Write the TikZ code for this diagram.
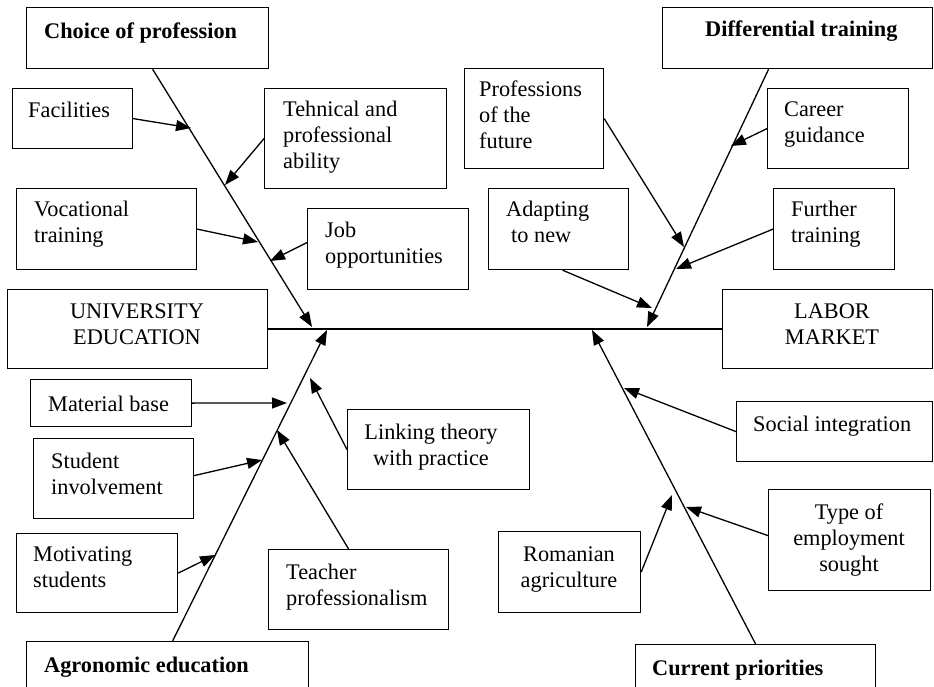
\documentclass[tikz,border=0pt]{standalone}
\usepackage{fontspec}
\setmainfont{Liberation Serif}
\usetikzlibrary{arrows.meta,calc}
\begin{document}
\begin{tikzpicture}[x=1pt,y=-1pt,
  box/.style={draw, line width=1.2pt, rectangle, inner sep=0pt, anchor=north west},
  lbl/.style={inner sep=0pt, font=\fontsize{22.3}{26}\selectfont},
  lblL/.style={lbl, align=left, anchor=base west},
  lblC/.style={lbl, align=center, anchor=base},
  bone/.style={line width=1.3pt, -{Triangle[length=15pt,width=11pt]}},
  arr/.style={line width=1.3pt, -{Triangle[length=15pt,width=11pt]}}
]
\clip (0,0) rectangle (934,687);
% boxes
\node[box, minimum width=242pt, minimum height=61pt] (choice) at (26,7) {};
\node[box, minimum width=120pt, minimum height=60pt] (fac) at (12,88) {};
\node[box, minimum width=182pt, minimum height=100pt] (teh) at (264,88) {};
\node[box, minimum width=180pt, minimum height=81pt] (voc) at (16,188) {};
\node[box, minimum width=161pt, minimum height=81pt] (job) at (307,208) {};
\node[box, minimum width=260pt, minimum height=79pt] (uni) at (7,289) {};
\node[box, minimum width=139pt, minimum height=100pt] (prof) at (464,68) {};
\node[box, minimum width=270pt, minimum height=61pt] (diff) at (662,7) {};
\node[box, minimum width=141pt, minimum height=80pt] (car) at (767,88) {};
\node[box, minimum width=140pt, minimum height=81pt] (ada) at (488,188) {};
\node[box, minimum width=121pt, minimum height=81pt] (fur) at (773,188) {};
\node[box, minimum width=210pt, minimum height=79pt] (lab) at (722,289) {};
\node[box, minimum width=161pt, minimum height=47pt] (mat) at (30,379) {};
\node[box, minimum width=160pt, minimum height=80pt] (stu) at (33,438) {};
\node[box, minimum width=161pt, minimum height=79pt] (mot) at (16,533) {};
\node[box, minimum width=282pt, minimum height=59pt] (agr) at (26,641) {};
\node[box, minimum width=180pt, minimum height=80pt] (tea) at (268,549) {};
\node[box, minimum width=182pt, minimum height=80pt] (lin) at (347,409) {};
\node[box, minimum width=196pt, minimum height=60pt] (soc) at (736,401) {};
\node[box, minimum width=162pt, minimum height=101pt] (typ) at (768,489) {};
\node[box, minimum width=142pt, minimum height=81pt] (rom) at (498,531) {};
\node[box, minimum width=240pt, minimum height=56pt] (cur) at (635,644) {};
% texts (multi-line nodes are placed by the baseline of their last line)
\node[lblL, font=\fontsize{22.3}{26}\selectfont\bfseries] (choiceT) at (44,39) {Choice of profession};
\node[lblL] (facT) at (28,118) {Facilities};
\node[lblL] (tehT) at (283,169) {Tehnical and\\professional\\ability};
\node[lblL] (vocT) at (34,243) {Vocational\\training};
\node[lblL] (jobT) at (325,263) {Job\\opportunities};
\node[lblC] (uniT) at (137,344) {UNIVERSITY\\EDUCATION};
\node[lblL] (profT) at (479,149) {Professions\\of the\\future};
\node[lblL, font=\fontsize{22.3}{26}\selectfont\bfseries] (diffT) at (705,37) {Differential training};
\node[lblL] (carT) at (784,143) {Career\\guidance};
\node[lblL] (adaT) at (506,243) {Adapting\\\hspace{5pt}to new};
\node[lblL] (furT) at (791,243) {Further\\training};
\node[lblC] (labT) at (832,344) {LABOR\\MARKET};
\node[lblL] (matT) at (48,411) {Material base};
\node[lblL] (stuT) at (51,494) {Student\\involvement};
\node[lblL] (motT) at (33,587) {Motivating\\students};
\node[lblL, font=\fontsize{22.3}{26}\selectfont\bfseries] (agrT) at (44,672) {Agronomic education};
\node[lblL] (teaT) at (286,605) {Teacher\\professionalism};
\node[lblC] (linT) at (431,465) {Linking theory\\with practice};
\node[lblL] (socT) at (753,431) {Social integration};
\node[lblC] (typT) at (849,571) {Type of\\employment\\sought};
\node[lblC] (romT) at (569,587) {Romanian\\agriculture};
\node[lblL, font=\fontsize{22.3}{26}\selectfont\bfseries] (curT) at (652,675) {Current priorities};
% tip coordinates
\coordinate (tChoice) at (312,327);
\coordinate (tDiff) at (647,327);
\coordinate (tAgr) at (327,330);
\coordinate (tCur) at (592,330);
\coordinate (tFac) at (191,128);
\coordinate (tTeh) at (225,185);
\coordinate (tVoc) at (258,242);
\coordinate (tJob) at (270,261);
\coordinate (tProf) at (684,247);
\coordinate (tCar) at (731,146);
\coordinate (tAda) at (652,308);
\coordinate (tFur) at (676,269);
\coordinate (tMat) at (287,403);
\coordinate (tStu) at (262,460);
\coordinate (tMot) at (215,555);
\coordinate (tTea) at (277,430);
\coordinate (tLin) at (310,378);
\coordinate (tSoc) at (624,388);
\coordinate (tTyp) at (686,507);
\coordinate (tRom) at (672,495);
% spine
\draw[line width=1.3pt] (uni.east) -- (lab.west);
% bones
\draw[bone] ([xshift=5pt]choice.south) -- (tChoice);
\draw[bone] ([xshift=-29pt]diff.south) -- (tDiff);
\draw[bone] ([xshift=5pt]agr.north) -- (tAgr);
\draw[bone] (cur.north) -- (tCur);
% cause arrows
\draw[arr] (fac.east) -- (tFac);
\draw[arr] (teh.west) -- (tTeh);
\draw[arr] (voc.east) -- (tVoc);
\draw[arr] ([yshift=6.5pt]job.west) -- (tJob);
\draw[arr] (prof.east) -- (tProf);
\draw[arr] (car.west) -- (tCar);
\draw[arr] ([xshift=4pt]ada.south) -- (tAda);
\draw[arr] (fur.west) -- (tFur);
\draw[arr] (mat.east) -- (tMat);
\draw[arr] ([yshift=3pt]stu.east) -- (tStu);
\draw[arr] (mot.east) -- (tMot);
\draw[arr] ([xshift=-10pt]tea.north) -- (tTea);
\draw[arr] (lin.west) -- (tLin);
\draw[arr] (soc.west) -- (tSoc);
\draw[arr] ([yshift=4.5pt]typ.west) -- (tTyp);
\draw[arr] (rom.east) -- (tRom);
\end{tikzpicture}
\end{document}
